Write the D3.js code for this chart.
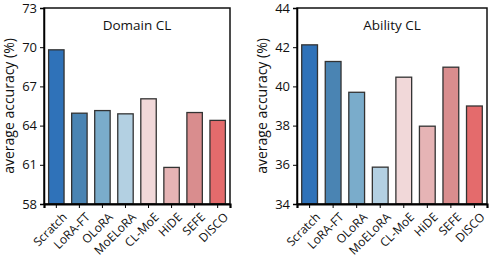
<!DOCTYPE html>
<html>
<head>
<meta charset="utf-8">
<script src="https://cdn.jsdelivr.net/npm/d3@7"></script>
<style>
  body { margin: 0; background: #fff; }
  text { font-family: "Open Sans", sans-serif; fill: #111; }
</style>
</head>
<body>
<script>
// ---------------- data ----------------
const methods = ["Scratch", "LoRA-FT", "OLoRA", "MoELoRA", "CL-MoE", "HiDE", "SEFE", "DISCO"];
const domainVals = [69.8, 64.95, 65.15, 64.9, 66.05, 60.8, 65.0, 64.4];
const abilityVals = [42.12, 41.27, 39.7, 35.88, 40.47, 37.97, 40.98, 39.0];
const domainTicks = [58, 61, 64, 67, 70, 73];
const abilityTicks = [34, 36, 38, 40, 42, 44];
const barColors = ["#2f72b9", "#4a84b3", "#7aaccb", "#b3d0e2", "#f1d8d9", "#e6b4b5", "#d98d8e", "#e46b6c"];

const width = 490, height = 260;

const svg = d3.select("body").append("svg")
  .attr("width", width)
  .attr("height", height);

// ---------------- one panel ----------------
function panel(x0, x1, title, values, ticks) {
  const top = 8, bottom = 204;

  const x = d3.scaleBand().domain(methods).range([x0, x1]).paddingInner(0.33).paddingOuter(0.2);
  const y = d3.scaleLinear().domain([ticks[0], ticks[ticks.length - 1]]).range([bottom, top]);

  const g = svg.append("g");

  g.selectAll("rect.bar")
    .data(values)
    .join("rect")
    .attr("class", "bar")
    .attr("x", (d, i) => x(methods[i]))
    .attr("y", d => y(d))
    .attr("width", x.bandwidth())
    .attr("height", d => y(ticks[0]) - y(d))
    .attr("fill", (d, i) => barColors[i])
    .attr("stroke", "#333")
    .attr("stroke-width", 1.3);

  // frame
  g.append("rect")
    .attr("x", x0).attr("y", top)
    .attr("width", x1 - x0).attr("height", bottom - top)
    .attr("fill", "none").attr("stroke", "#111").attr("stroke-width", 1.5);

  // y axis
  const yAxis = g.append("g")
    .attr("transform", `translate(${x0},0)`)
    .call(d3.axisLeft(y).tickValues(ticks).tickSize(4).tickPadding(3).tickFormat(d3.format("d")));
  yAxis.select(".domain").attr("stroke-width", 1.5);
  yAxis.selectAll("text").style("font-size", "13px").style("font-family", "Open Sans");

  // x axis
  const xAxis = g.append("g")
    .attr("transform", `translate(0,${bottom})`)
    .call(d3.axisBottom(x).tickSize(4).tickPadding(3));
  xAxis.select(".domain").attr("stroke-width", 2.2);
  xAxis.selectAll("text")
    .style("font-size", "12px")
    .style("font-family", "Open Sans")
    .attr("text-anchor", "end")
    .attr("dx", "-0.15em")
    .attr("dy", "0.9em")
    .attr("transform", "rotate(-45)");

  // title
  g.append("text")
    .attr("x", (x0 + x1) / 2)
    .attr("y", 30)
    .attr("text-anchor", "middle")
    .style("font-size", "13.5px")
    .text(title);

  // y label
  g.append("text")
    .attr("transform", `translate(${x0 - 30},${(top + bottom) / 2}) rotate(-90)`)
    .attr("text-anchor", "middle")
    .style("font-size", "14px")
    .text("average accuracy (%)");
}

panel(44, 230, "Domain CL", domainVals, domainTicks);
panel(297, 487, "Ability CL", abilityVals, abilityTicks);
</script>
</body>
</html>
